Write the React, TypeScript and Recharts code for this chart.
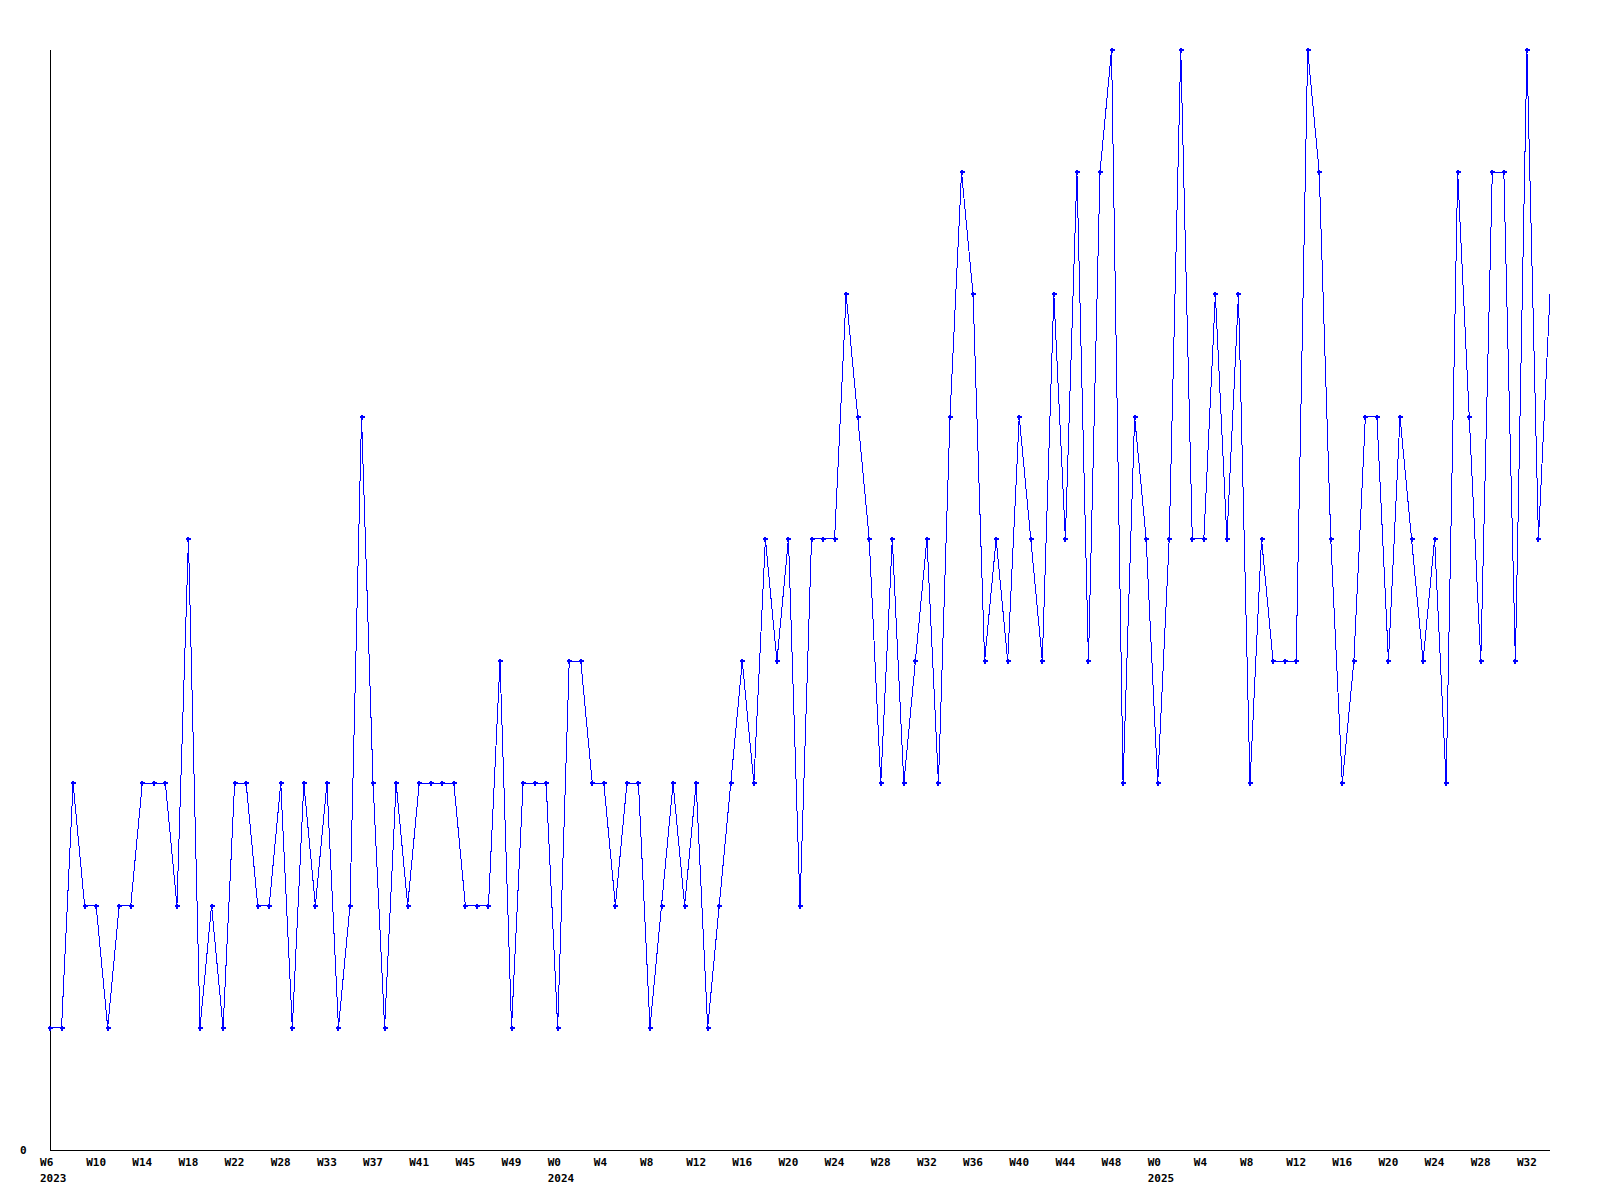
import React from 'react';
import { LineChart, Line, XAxis, YAxis } from 'recharts';

// week numbers present in the data, per year
const weeks2023 = [
  6, 7, 8, 9, 10, 11, 12, 13, 14, 15, 16, 17, 18, 19, 20, 21, 22, 23, 25, 27,
  28, 29, 30, 32, 33, 34, 35, 36, 37, 38, 39, 40, 41, 42, 43, 44, 45, 46, 47, 48,
  49, 50, 51, 52,
];
const weeks2024 = [
  0, 1, 2, 3, 4, 5, 6, 7, 8, 9, 10, 11, 12, 13, 14, 15, 16, 17, 18, 19,
  20, 21, 22, 23, 24, 25, 26, 27, 28, 29, 30, 31, 32, 33, 34, 35, 36, 37, 38, 39,
  40, 41, 42, 43, 44, 45, 46, 47, 48, 49, 50, 51,
];
const weeks2025 = [
  0, 1, 2, 3, 4, 5, 6, 7, 8, 9, 10, 11, 12, 13, 14, 15, 16, 17, 18, 19,
  20, 21, 22, 23, 24, 25, 26, 27, 28, 29, 30, 31, 32, 33, 34,
];

const years = [2023, 2024, 2025];
const weekLists = [weeks2023, weeks2024, weeks2025];

// weekly counts, one per week above
const counts = [
  1, 1, 3, 2, 2, 1, 2, 2, 3, 3,
  3, 2, 5, 1, 2, 1, 3, 3, 2, 2,
  3, 1, 3, 2, 3, 1, 2, 6, 3, 1,
  3, 2, 3, 3, 3, 3, 2, 2, 2, 4,
  1, 3, 3, 3, 1, 4, 4, 3, 3, 2,
  3, 3, 1, 2, 3, 2, 3, 1, 2, 3,
  4, 3, 5, 4, 5, 2, 5, 5, 5, 7,
  6, 5, 3, 5, 3, 4, 5, 3, 6, 8,
  7, 4, 5, 4, 6, 5, 4, 7, 5, 8,
  4, 8, 9, 3, 6, 5, 3, 5, 9, 5,
  5, 7, 5, 7, 3, 5, 4, 4, 4, 9,
  8, 5, 3, 4, 6, 6, 4, 6, 5, 4,
  5, 3, 8, 6, 4, 8, 8, 4, 9, 5,
  7,
];

const rows: { key: string; year: number; week: number; first: boolean; count: number }[] = [];
years.forEach((year, yi) => {
  weekLists[yi].forEach((week, wi) => {
    rows.push({ key: `${year}-W${week}`, year, week, first: wi === 0, count: counts[rows.length] });
  });
});
const firstOfYear = new Set(rows.filter(r => r.first).map(r => r.key));

const FONT = '"DejaVu Sans Mono", monospace';

function WeekTick(props: any) {
  const { x, y, payload } = props;
  const key: string = payload.value;
  const [year, week] = key.split('-W');
  return (
    <g>
      <text x={x - 10} y={y + 16} textAnchor="start" fontFamily={FONT} fontWeight="bold" fontSize={11} fill="#000">
        W{week}
      </text>
      {firstOfYear.has(key) && (
        <text x={x - 10} y={y + 32} textAnchor="start" fontFamily={FONT} fontWeight="bold" fontSize={11} fill="#000">
          {year}
        </text>
      )}
    </g>
  );
}

function ZeroTick(props: any) {
  const { y, payload } = props;
  return (
    <text x={20} y={y + 4} textAnchor="start" fontFamily={FONT} fontWeight="bold" fontSize={11} fill="#000">
      {payload.value}
    </text>
  );
}

function PlusDot(props: any) {
  const { cx, cy, index } = props;
  // the last point has no marker in the original
  if (cx == null || cy == null || index === rows.length - 1) return <g />;
  return (
    <g fill="#0000ff" shapeRendering="crispEdges">
      <rect x={cx - 2} y={cy - 1} width={5} height={2} />
      <rect x={cx - 1} y={cy - 2} width={2} height={5} />
    </g>
  );
}

export default function App() {
  return (
    <div style={{ position: 'absolute', left: 0, top: 0, width: 1600, height: 1200, background: '#fff' }}>
      <LineChart width={1600} height={1200} data={rows} margin={{ top: 50, right: 50, left: 10, bottom: 10 }}>
        <XAxis
          dataKey="key"
          type="category"
          scale="point"
          padding={{ left: 0, right: 0 }}
          interval={3}
          height={40}
          tickLine={false}
          tickSize={0}
          tickMargin={0}
          axisLine={{ stroke: '#000', shapeRendering: 'crispEdges' }}
          tick={<WeekTick />}
        />
        <YAxis
          type="number"
          domain={[0, 9]}
          ticks={[0]}
          width={40}
          tickLine={false}
          axisLine={{ stroke: '#000', shapeRendering: 'crispEdges' }}
          tick={<ZeroTick />}
        />
        <Line
          type="linear"
          dataKey="count"
          stroke="#0000ff"
          strokeWidth={1}
          shapeRendering="crispEdges"
          dot={<PlusDot />}
          activeDot={false}
          isAnimationActive={false}
        />
      </LineChart>
    </div>
  );
}
